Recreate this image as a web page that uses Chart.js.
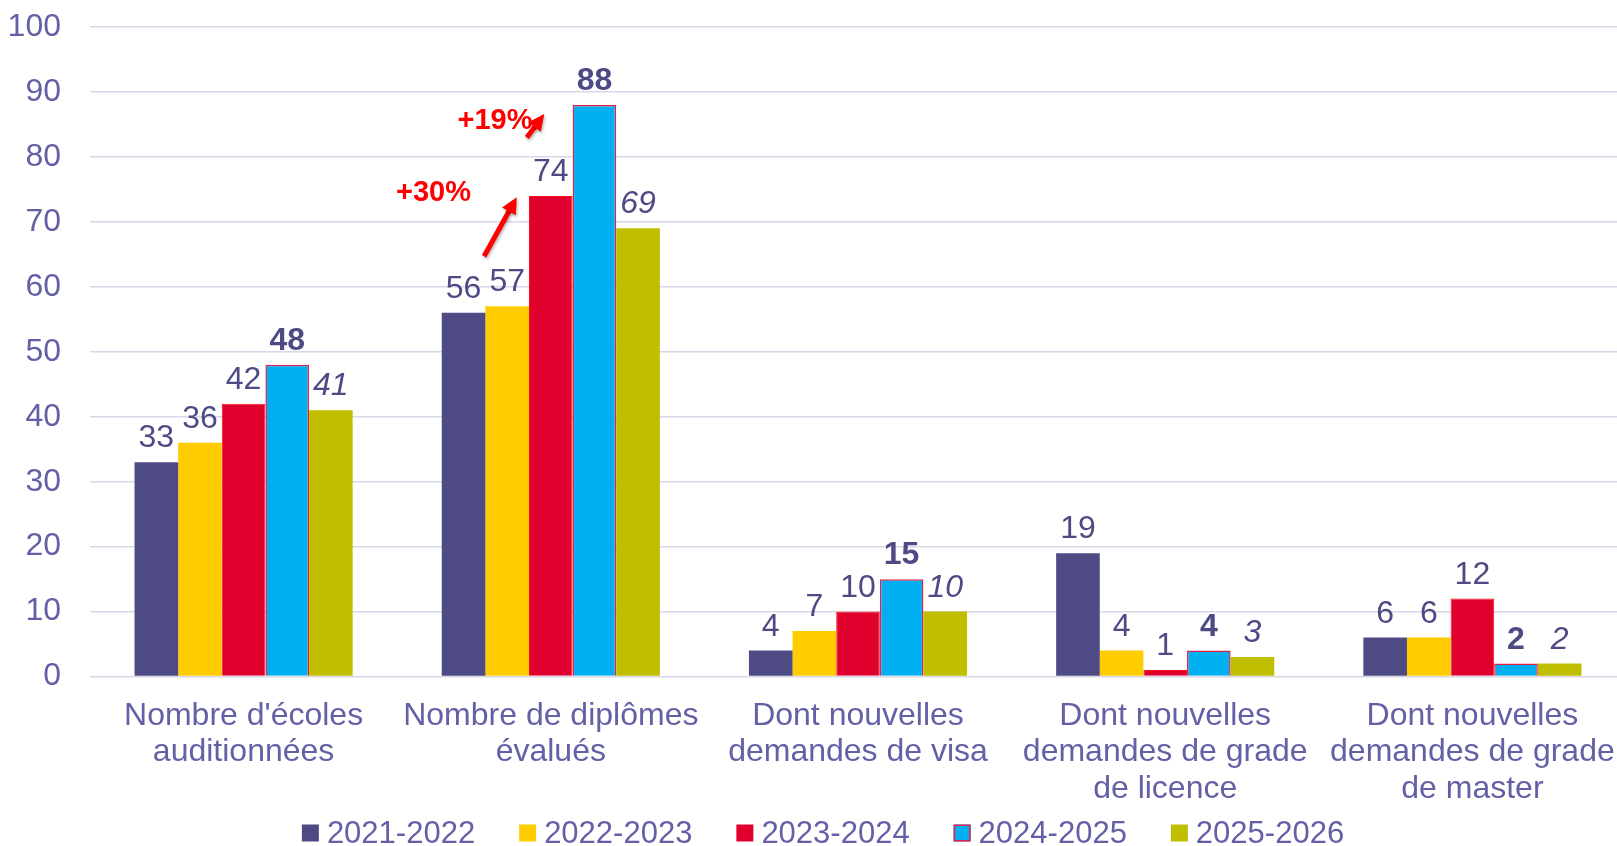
<!DOCTYPE html>
<html>
<head>
<meta charset="utf-8">
<script src="https://cdn.jsdelivr.net/npm/chart.js@4/dist/chart.umd.min.js"></script>
<style>
  html, body { margin: 0; padding: 0; background: #fff; overflow: hidden; }
  #wrap { width: 1636px; height: 846px; }
</style>
</head>
<body>
<div id="wrap"><canvas id="barres"></canvas></div>
<script>
const categories = [
    ["Nombre d'écoles", "auditionnées"],
    ["Nombre de diplômes", "évalués"],
    ["Dont nouvelles", "demandes de visa"],
    ["Dont nouvelles", "demandes de grade", "de licence"],
    ["Dont nouvelles", "demandes de grade", "de master"]
];
const annees = ['2021-2022', '2022-2023', '2023-2024', '2024-2025', '2025-2026'];
const valeurs2021 = [33, 56, 4, 19, 6];
const valeurs2022 = [36, 57, 7, 4, 6];
const valeurs2023 = [42, 74, 10, 1, 12];
const valeurs2024 = [48, 88, 15, 4, 2];
const valeurs2025 = [41, 69, 10, 3, 2];
const yTicks = [0, 10, 20, 30, 40, 50, 60, 70, 80, 90, 100];
const hausses = ['+30%', '+19%'];

const police = "'Liberation Sans', Arial, sans-serif";
const couleurTexte = '#6460A6';
const couleurValeurs = '#4E4A84';

// style des étiquettes de valeur, par série
const stylesEtiquettes = ['normal', 'normal', 'normal', 'bold', 'italic'];

const etiquettesPlugin = {
    id: 'etiquettes',
    afterDatasetsDraw(chart) {
        const ctx = chart.ctx;
        ctx.save();
        ctx.fillStyle = couleurValeurs;
        ctx.textAlign = 'center';
        ctx.textBaseline = 'alphabetic';
        chart.data.datasets.forEach((ds, i) => {
            const meta = chart.getDatasetMeta(i);
            const style = stylesEtiquettes[i];
            ctx.font = (style === 'bold' ? 'bold ' : style === 'italic' ? 'italic ' : '') + '32px ' + police;
            meta.data.forEach((bar, j) => {
                ctx.fillText(ds.data[j], bar.x, bar.y - 15);
            });
        });
        ctx.restore();
    }
};

// flèches rouges et pourcentages sur "Nombre de diplômes évalués"
const flechesPlugin = {
    id: 'fleches',
    afterDatasetsDraw(chart) {
        const ctx = chart.ctx;
        const x = chart.scales.x;
        const y = chart.scales.y;
        const largeur = chart.getDatasetMeta(0).data[1].width;
        const centre = x.getPixelForValue(1);
        const px = d => centre + d * largeur;

        function fleche(x1, y1, x2, y2) {
            const ang = Math.atan2(y2 - y1, x2 - x1);
            const tete = 18;
            ctx.save();
            ctx.shadowColor = 'rgba(0,0,0,0.3)';
            ctx.shadowBlur = 3;
            ctx.shadowOffsetX = 1;
            ctx.shadowOffsetY = 2;
            ctx.strokeStyle = '#FF0000';
            ctx.fillStyle = '#FF0000';
            ctx.lineWidth = 5;
            ctx.beginPath();
            ctx.moveTo(x1, y1);
            ctx.lineTo(x2 - Math.cos(ang) * tete * 0.7, y2 - Math.sin(ang) * tete * 0.7);
            ctx.stroke();
            ctx.beginPath();
            ctx.moveTo(x2, y2);
            ctx.lineTo(x2 - tete * Math.cos(ang - 0.45), y2 - tete * Math.sin(ang - 0.45));
            ctx.lineTo(x2 - tete * Math.cos(ang + 0.45), y2 - tete * Math.sin(ang + 0.45));
            ctx.closePath();
            ctx.fill();
            ctx.restore();
        }

        fleche(px(-1.53), y.getPixelForValue(64.7), px(-0.78), y.getPixelForValue(73.8));
        fleche(px(-0.55), y.getPixelForValue(83.0), px(-0.15), y.getPixelForValue(86.6));

        ctx.save();
        ctx.fillStyle = '#FF0000';
        ctx.font = 'bold 29px ' + police;
        ctx.textAlign = 'center';
        ctx.textBaseline = 'middle';
        ctx.fillText(hausses[0], px(-2.69), y.getPixelForValue(74.4));
        ctx.fillText(hausses[1], px(-1.28), y.getPixelForValue(85.6));
        ctx.restore();
    }
};

// légende dessinée à la main, en bas
const legendePlugin = {
    id: 'legende',
    afterDraw(chart) {
        const ctx = chart.ctx;
        const boite = 17, ecart = 8, entre = 44;
        const yc = 833;
        ctx.save();
        ctx.font = '31px ' + police;
        const items = chart.data.datasets.map(ds => ({
            ds: ds,
            w: ctx.measureText(ds.label).width
        }));
        const total = items.reduce((s, it) => s + boite + ecart + it.w, 0) + entre * (items.length - 1);
        let x = chart.width / 2 - total / 2 + 5;
        ctx.textBaseline = 'middle';
        ctx.textAlign = 'left';
        items.forEach(it => {
            ctx.fillStyle = it.ds.backgroundColor;
            ctx.fillRect(x, yc - boite / 2, boite, boite);
            if (it.ds.borderWidth > 1) {
                ctx.strokeStyle = it.ds.borderColor;
                ctx.lineWidth = 1.5;
                ctx.strokeRect(x + 0.75, yc - boite / 2 + 0.75, boite - 1.5, boite - 1.5);
            }
            ctx.fillStyle = couleurTexte;
            ctx.fillText(it.ds.label, x + boite + ecart, yc + 1);
            x += boite + ecart + it.w + entre;
        });
        ctx.restore();
    }
};

new Chart('barres', {
    type: 'bar',
    data: {
        labels: categories,
        datasets: [{
            label: annees[0],
            data: valeurs2021,
            backgroundColor: '#4E4A84',
            borderWidth: 0
        }, {
            label: annees[1],
            data: valeurs2022,
            backgroundColor: '#FFCC00',
            borderWidth: 0
        }, {
            label: annees[2],
            data: valeurs2023,
            backgroundColor: '#E0002E',
            borderColor: '#FF1010',
            borderWidth: 1
        }, {
            label: annees[3],
            data: valeurs2024,
            backgroundColor: '#00B0F0',
            borderColor: '#E0204A',
            borderWidth: 1.5
        }, {
            label: annees[4],
            data: valeurs2025,
            backgroundColor: '#BFBF00',
            borderWidth: 0
        }]
    },
    options: {
        responsive: true,
        maintainAspectRatio: false,
        animation: false,
        layout: {
            padding: { left: 10, right: 10, top: 27, bottom: 18 }
        },
        datasets: {
            bar: {
                categoryPercentage: 0.71,
                barPercentage: 1.0
            }
        },
        scales: {
            x: {
                grid: { display: false, drawTicks: false },
                border: { display: false },
                ticks: {
                    color: couleurTexte,
                    font: { family: police, size: 32, lineHeight: 1.14 },
                    padding: 21,
                    maxRotation: 0,
                    autoSkip: false
                },
                afterFit(axis) {
                    axis.paddingLeft = 0;
                    axis.paddingRight = 0;
                }
            },
            y: {
                min: 0,
                max: 100,
                afterBuildTicks(axis) {
                    axis.ticks = yTicks.map(v => ({ value: v }));
                },
                afterFit(axis) {
                    axis.width = 80;
                    axis.paddingTop = 0;
                    axis.paddingBottom = 0;
                },
                grid: { color: '#D9D8E8', lineWidth: 1.5, drawTicks: false },
                border: { display: false },
                ticks: {
                    color: couleurTexte,
                    font: { family: police, size: 32 },
                    padding: 29
                }
            }
        },
        plugins: {
            legend: { display: false },
            tooltip: { enabled: false }
        }
    },
    plugins: [etiquettesPlugin, flechesPlugin, legendePlugin]
});
</script>
</body>
</html>
